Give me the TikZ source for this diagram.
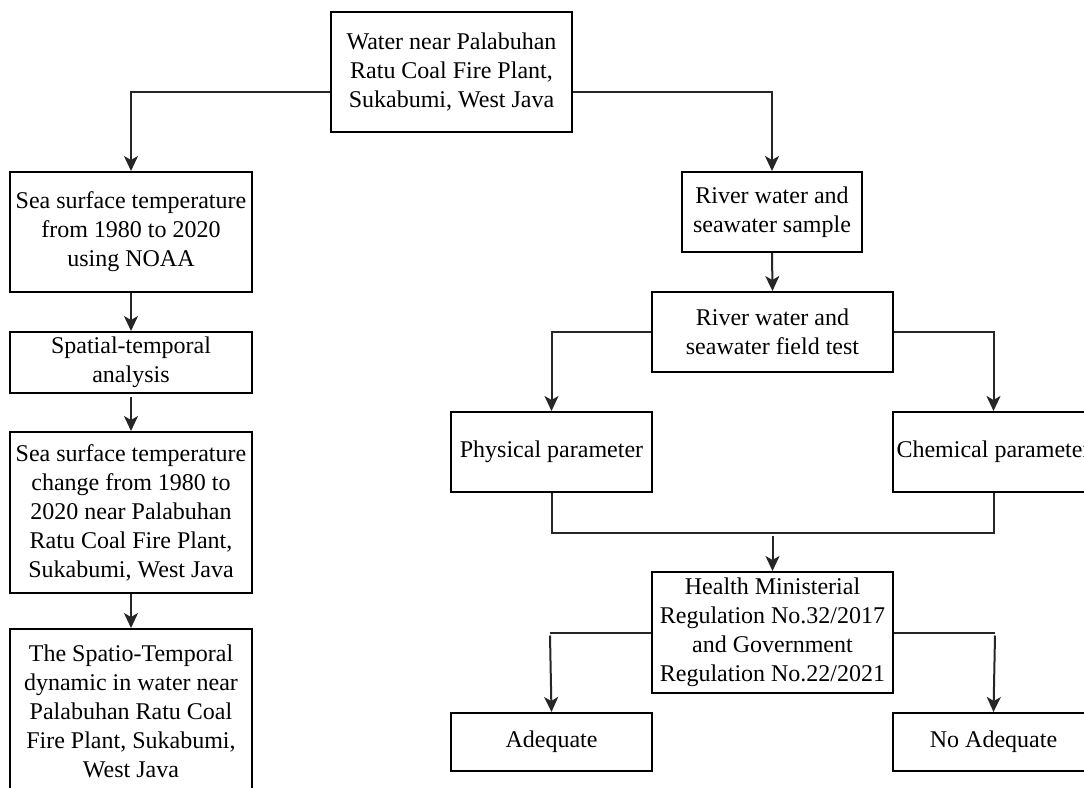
\documentclass[tikz,border=0pt]{standalone}
\usepackage{fontspec}
\setmainfont{Liberation Serif}
\usetikzlibrary{arrows.meta,calc}
\begin{document}
\begin{tikzpicture}[x=1pt,y=-1pt,
  box/.style={draw=black,line width=2pt,inner sep=0pt,align=center,
    font=\fontsize{24}{29}\selectfont},
  conn/.style={draw=black!85,line width=2pt},
  arr/.style={conn,-{Stealth[length=15pt,width=14pt,inset=4pt]}}]
\path[use as bounding box,clip] (0,0) rectangle (1084,787);
\fill[white] (0,0) rectangle (1084,787);
% nodes
\node[box,minimum width=241pt,minimum height=120pt] (top) at (451.5,72)
  {Water near Palabuhan\\Ratu Coal Fire Plant,\\Sukabumi, West Java};
\node[box,minimum width=242pt,minimum height=120pt] (A) at (131,232)
  {Sea surface temperature\\from 1980 to 2020\\using NOAA};
\node[box,minimum width=242pt,minimum height=61pt] (B) at (131,362.5)
  {Spatial-temporal\\analysis};
\node[box,minimum width=242pt,minimum height=161pt] (C) at (131,512.5)
  {Sea surface temperature\\change from 1980 to\\2020 near Palabuhan\\Ratu Coal Fire Plant,\\Sukabumi, West Java};
\node[box,minimum width=242pt,minimum height=164pt] (D) at (131,711)
  {The Spatio-Temporal\\dynamic in water near\\Palabuhan Ratu Coal\\Fire Plant, Sukabumi,\\West Java};
\node[box,minimum width=180pt,minimum height=80pt] (S) at (772,212)
  {River water and\\seawater sample};
\node[box,minimum width=241pt,minimum height=80pt] (F) at (772.5,332)
  {River water and\\seawater field test};
\node[box,minimum width=201pt,minimum height=80pt] (P) at (551.5,452)
  {Physical parameter};
\node[box,minimum width=201pt,minimum height=80pt] (Ch) at (993.5,452)
  {Chemical parameter};
\node[box,minimum width=241pt,minimum height=121pt] (H) at (772.5,632.5)
  {Health Ministerial\\Regulation No.32/2017\\and Government\\Regulation No.22/2021};
\node[box,minimum width=201pt,minimum height=58pt] (Ad) at (551.5,742)
  {Adequate};
\node[box,minimum width=201pt,minimum height=58pt] (NA) at (993.5,742)
  {No Adequate};
% connectors
\draw[arr] ([yshift=-20pt]top.west) -| (A.north);
\draw[arr] ([yshift=-20pt]top.east) -| (S.north);
\draw[arr] (A.south) -- (B.north);
\draw[arr] ([yshift=-3pt]B.south) -- (C.north);
\draw[arr] (C.south) -- (D.north);
\draw[arr] (S.south) -- (F.north);
\draw[arr] (F.west) -| (P.north);
\draw[arr] (F.east) -| (Ch.north);
\draw[conn] (P.south) -- ++(0,40) -| (Ch.south);
\coordinate (m) at (772.5,536);
\draw[arr] (m) -- (H.north);
\draw[conn] (H.west) -- ++(-101,0) coordinate (hl);
\draw[arr] ([yshift=-3pt]hl) -- (Ad.north);
\draw[conn] (H.east) -- ++(101,0) coordinate (hr);
\draw[arr] ([yshift=-3pt]hr) -- (NA.north);
\end{tikzpicture}
\end{document}
